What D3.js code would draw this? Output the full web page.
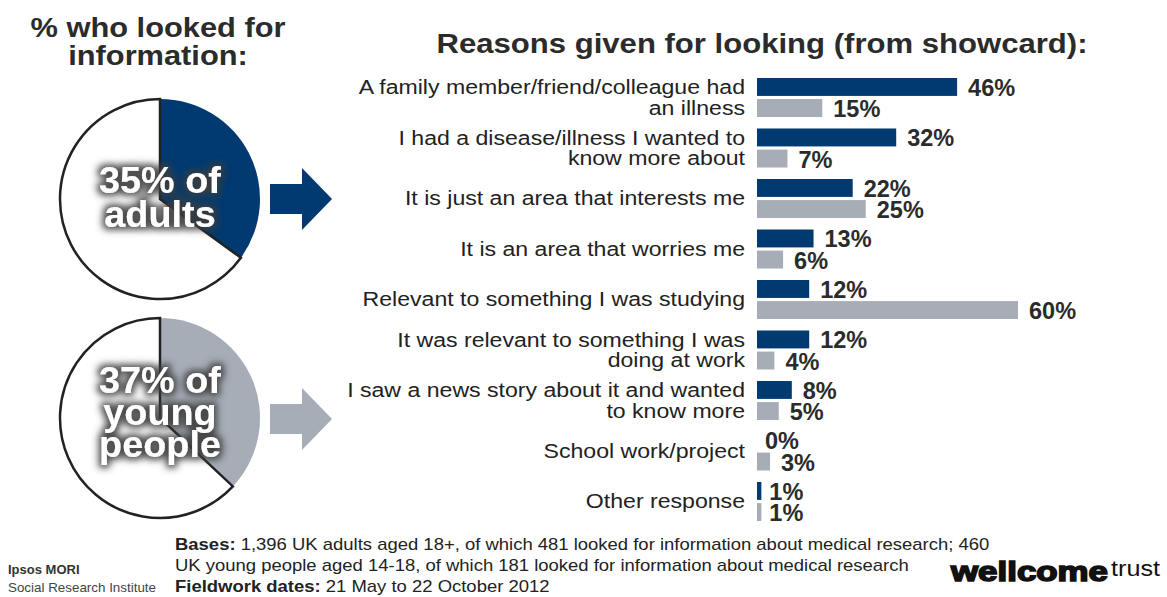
<!DOCTYPE html>
<html>
<head>
<meta charset="utf-8">
<script src="https://cdn.jsdelivr.net/npm/d3@7"></script>
<style>
  body { margin: 0; background: #fff; }
  svg { font-family: "Liberation Sans", Arial, sans-serif; }
</style>
</head>
<body>
<div id="chart"></div>
<script>
const width = 1167
const height = 597

// data
const categories = [
  ["A family member/friend/colleague had", "an illness"],
  ["I had a disease/illness I wanted to", "know more about"],
  ["It is just an area that interests me"],
  ["It is an area that worries me"],
  ["Relevant to something I was studying"],
  ["It was relevant to something I was", "doing at work"],
  ["I saw a news story about it and wanted", "to know more"],
  ["School work/project"],
  ["Other response"]
]
const adults = [46, 32, 22, 13, 12, 12, 8, 0, 1]
const young = [15, 7, 25, 6, 60, 4, 5, 3, 1]
const pieShares = [35, 37]
const pieLabels = [["35% of", "adults"], ["37% of", "young", "people"]]

const blue = "#003a70"
const grey = "#a6adb7"
const ink = "#2b2b2b"

let svg = d3.select("#chart")
  .append("svg")
  .attr("width", width)
  .attr("height", height)

// the source picture is a bit wider than tall, so text gets stretched sideways
function stretch(x0, y0, sx) {
  return "translate(" + x0 + "," + y0 + ") scale(" + sx + ",1)"
}

// glow for the text on the pies
let defs = svg.append("defs")
let glow = defs.append("filter").attr("id", "glow")
  .attr("x", "-20%").attr("y", "-40%").attr("width", "140%").attr("height", "180%")
glow.append("feMorphology").attr("in", "SourceAlpha").attr("operator", "dilate").attr("radius", 2.5).attr("result", "thick")
glow.append("feGaussianBlur").attr("in", "thick").attr("stdDeviation", 3.5).attr("result", "blur")
glow.append("feFlood").attr("flood-color", "#3c3c3c").attr("flood-opacity", 0.9)
glow.append("feComposite").attr("in2", "blur").attr("operator", "in").attr("result", "shadow")
let merge = glow.append("feMerge")
merge.append("feMergeNode").attr("in", "shadow")
merge.append("feMergeNode").attr("in", "SourceGraphic")

// Titles
let leftTitle = svg.append("g").attr("transform", stretch(158, 0, 1.1))
  .append("text")
  .attr("text-anchor", "middle")
  .attr("font-size", 28).attr("font-weight", "bold").attr("fill", ink)
leftTitle.append("tspan").attr("x", 0).attr("y", 37).text("% who looked for")
leftTitle.append("tspan").attr("x", 0).attr("y", 65).text("information:")

svg.append("g").attr("transform", stretch(762, 53, 1.11))
  .append("text")
  .attr("text-anchor", "middle")
  .attr("font-size", 28).attr("font-weight", "bold").attr("fill", ink)
  .text("Reasons given for looking (from showcard):")

// Pies
const r = 100
const pieCenters = [[160, 199], [160, 418]]
const pieFills = [blue, grey]
let arc = d3.arc().innerRadius(0).outerRadius(r)

pieShares.forEach(function(share, i) {
  let g = svg.append("g").attr("transform", "translate(" + pieCenters[i] + ")")
  let a = share / 100 * 2 * Math.PI
  g.append("path")
    .attr("d", arc({startAngle: 0, endAngle: a}))
    .attr("fill", pieFills[i])
  g.append("path")
    .attr("d", arc({startAngle: a, endAngle: 2 * Math.PI}))
    .attr("fill", "#fff")
    .attr("stroke", "#222")
    .attr("stroke-width", 2.5)

  let t = g.append("g").attr("transform", "scale(1.05,1)")
    .append("text")
    .attr("text-anchor", "middle")
    .attr("font-size", 36).attr("font-weight", "bold")
    .attr("fill", "#fff")
    .attr("filter", "url(#glow)")
  let lines = pieLabels[i]
  let y0 = i == 0 ? -6 : -25
  let lh = i == 0 ? 34 : 32
  lines.forEach(function(l, j) {
    t.append("tspan").attr("x", 0).attr("y", y0 + j * lh).text(l)
  })
})

// Arrows
const arrowY = [199, 419]
arrowY.forEach(function(cy, i) {
  let pts = [[270, cy - 15], [302, cy - 15], [302, cy - 31], [332, cy], [302, cy + 31], [302, cy + 15], [270, cy + 15]]
  svg.append("path")
    .attr("d", d3.line()(pts) + "Z")
    .attr("fill", pieFills[i])
})

// Bars
let x = d3.scaleLinear().domain([0, 60]).range([757, 1018])
let y = d3.scaleBand().domain(d3.range(categories.length)).range([78, 532.5])
let ySeries = d3.scaleBand().domain(["adults", "young"]).range([0, 39]).paddingInner(0.15)

let rows = categories.map(function(c, i) {
  return {i: i, label: c, values: [{k: "adults", v: adults[i]}, {k: "young", v: young[i]}]}
})

let row = svg.append("g").selectAll("g")
  .data(rows)
  .enter()
  .append("g")
  .attr("transform", function(d) { return "translate(0," + y(d.i) + ")" })

row.append("g")
  .attr("transform", stretch(745, 0, 1.1))
  .append("text")
  .attr("text-anchor", "end")
  .attr("font-size", 21)
  .attr("fill", "#222")
  .each(function(d) {
    let n = d.label.length
    let sel = d3.select(this)
    d.label.forEach(function(l, j) {
      sel.append("tspan")
        .attr("x", 0)
        .attr("y", 19.5 + (j - (n - 1) / 2) * 21 + 7)
        .text(l)
    })
  })

row.selectAll("rect")
  .data(function(d) { return d.values })
  .enter()
  .append("rect")
  .attr("x", x(0))
  .attr("y", function(d) { return ySeries(d.k) })
  .attr("width", function(d) { return x(d.v) - x(0) })
  .attr("height", ySeries.bandwidth())
  .attr("fill", function(d) { return d.k == "adults" ? blue : grey })

row.selectAll(".val")
  .data(function(d) { return d.values })
  .enter()
  .append("text")
  .attr("class", "val")
  .attr("x", function(d) { return x(d.v) + (d.v < 2 ? 8 : 11) })
  .attr("y", function(d) { return ySeries(d.k) + ySeries.bandwidth() / 2 + 9 })
  .attr("font-size", 23.5).attr("font-weight", "bold")
  .attr("fill", ink)
  .text(function(d) { return d.v + "%" })

// Footer
let foot = svg.append("g").attr("transform", stretch(175, 0, 1.155))
  .append("text").attr("font-size", 16).attr("fill", "#222")
let l1 = foot.append("tspan").attr("x", 0).attr("y", 550)
l1.append("tspan").attr("font-weight", "bold").text("Bases:")
l1.append("tspan").text(" 1,396 UK adults aged 18+, of which 481 looked for information about medical research; 460")
foot.append("tspan").attr("x", 0).attr("y", 571)
  .text("UK young people aged 14-18, of which 181 looked for information about medical research")
let l3 = foot.append("tspan").attr("x", 0).attr("y", 592)
l3.append("tspan").attr("font-weight", "bold").text("Fieldwork dates:")
l3.append("tspan").text(" 21 May to 22 October 2012")

svg.append("text").attr("x", 8).attr("y", 574)
  .attr("font-size", 13).attr("font-weight", "bold").attr("fill", "#333")
  .text("Ipsos MORI")
svg.append("text").attr("x", 8).attr("y", 592)
  .attr("font-size", 13).attr("fill", "#444")
  .attr("textLength", 148).attr("lengthAdjust", "spacingAndGlyphs")
  .text("Social Research Institute")

svg.append("text").attr("x", 951).attr("y", 581)
  .attr("font-size", 28).attr("font-weight", "bold").attr("fill", "#111")
  .attr("stroke", "#111").attr("stroke-width", 1.6)
  .attr("textLength", 157).attr("lengthAdjust", "spacingAndGlyphs")
  .text("wellcome")
svg.append("text").attr("x", 1111).attr("y", 576)
  .attr("font-size", 22).attr("fill", "#111")
  .attr("textLength", 49).attr("lengthAdjust", "spacingAndGlyphs")
  .text("trust")
</script>
</body>
</html>
